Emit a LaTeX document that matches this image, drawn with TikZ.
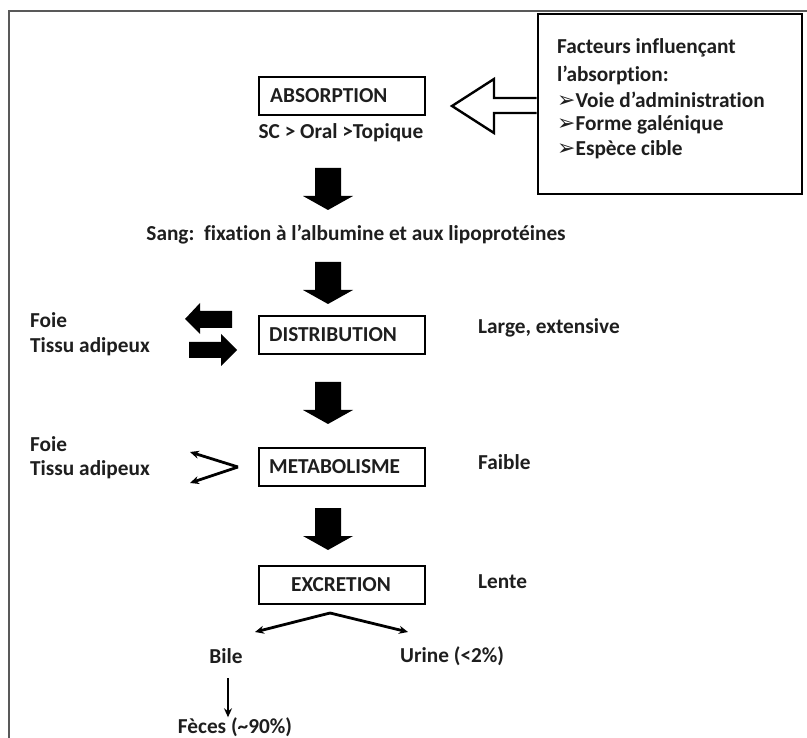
\documentclass[tikz,border=0pt]{standalone}
\usepackage{fontspec}
\setmainfont[Ligatures=NoCommon]{Carlito}
\newfontfamily\symf{DejaVu Sans}
\usetikzlibrary{arrows.meta}
\definecolor{txt}{HTML}{1E1E1E}
\tikzset{
  lbl/.style={font=\fontsize{21.3}{25}\selectfont\bfseries, text=txt, inner sep=0pt},
  stage/.style={draw=black, line width=2.6pt, minimum width=166pt, minimum height=38pt, inner sep=0pt},
  blockdown/.pic={\fill[black] (-13,0) -- (13,0) -- (13,28) -- (25,28) -- (0,42) -- (-25,28) -- (-13,28) -- cycle;},
  thinarr/.style={line width=2.8pt, -{Stealth[length=9pt,width=8pt]}},
}
\newcommand{\bul}{{\symf\fontsize{22}{22}\selectfont ➢}}
\begin{document}
\begin{tikzpicture}[x=1pt,y=-1pt]
\useasboundingbox (0,0) rectangle (807,738);
\begin{scope}
\clip (0,0) rectangle (807,738);
\draw[line width=2.6pt, black!65] (9,11) rectangle (830,760);
\end{scope}
% factors box
\node[draw=black, line width=2.6pt, fill=white, minimum width=264pt, minimum height=180pt, inner sep=0pt] (fac) at (670,104) {};
\node[lbl, anchor=west, align=left] (f1) at (557,48) {Facteurs influençant};
\node[lbl, anchor=west] (f2) at (557,75) {l'absorption:};
\node[lbl, anchor=west] (f3) at (557,100) {\bul Voie d'administration};
\node[lbl, anchor=west] (f4) at (557,125) {\bul Forme galénique};
\node[lbl, anchor=west] (f5) at (557,150) {\bul Espèce cible};
% outline arrow
\draw[line width=2.4pt, black] (fac.west |- 0,98) -- (494,98) -- (494,79) -- (452,106) -- (494,133) -- (494,113) -- (fac.west |- 0,113);
% stage boxes
\node[stage] (abs) at (342,96) {};
\node[lbl, anchor=west] at (270,96) {ABSORPTION};
\node[lbl] (sc) at (341,133) {SC > Oral >Topique};
\pic at (328,168) {blockdown};
\node[lbl] (sang) at (356,235) {Sang:\ \ fixation à l'albumine et aux lipoprotéines};
\pic at (328,262) {blockdown};
\node[stage] (dist) at (342,335) {};
\node[lbl, anchor=west] at (269,335) {DISTRIBUTION};
\node[lbl, anchor=west] (large) at (478,328) {Large, extensive};
\pic at (328,382) {blockdown};
\node[stage] (meta) at (342,467) {};
\node[lbl, anchor=west] at (269,467) {METABOLISME};
\node[lbl, anchor=west] (faible) at (478,462) {Faible};
\pic at (328,508) {blockdown};
\node[stage] (exc) at (342,585) {};
\node[lbl] at (341,585) {EXCRETION};
\node[lbl, anchor=west] (lente) at (478,582) {Lente};
% left labels
\node[lbl, anchor=west] (foie1) at (30,320) {Foie};
\node[lbl, anchor=west] (tissu1) at (30,347) {Tissu adipeux};
\node[lbl, anchor=west] (foie2) at (30,444) {Foie};
\node[lbl, anchor=west] (tissu2) at (30,470) {Tissu adipeux};
% double block arrows
\fill[black] (232,311) -- (200,311) -- (200,303) -- (185,319) -- (200,334) -- (200,328) -- (232,328) -- cycle;
\fill[black] (189,342) -- (221,342) -- (221,334) -- (237,350) -- (221,366) -- (221,358) -- (189,358) -- cycle;
% chevron arrows
\coordinate (v) at (238,467);
\coordinate (u1) at (190,452);
\coordinate (u2) at (190,483);
\draw[thinarr, line join=miter] (v) -- (u1);
\draw[thinarr] (v) -- (u2);
% excretion branches
\coordinate (apex) at (330,613);
\coordinate (bl) at (255,632);
\coordinate (br) at (408,632);
\draw[thinarr] (apex) -- (bl);
\draw[thinarr] (apex) -- (br);
\node[lbl] (bile) at (226,656) {Bile};
\node[lbl, anchor=west] (urine) at (400,656) {Urine (<2\%)};
\node[lbl] (feces) at (235,727) {Fèces (\textasciitilde 90\%)};
\coordinate (fb) at (228,678);
\draw[thinarr] (fb) -- (feces.north -| fb);
\end{tikzpicture}
\end{document}
